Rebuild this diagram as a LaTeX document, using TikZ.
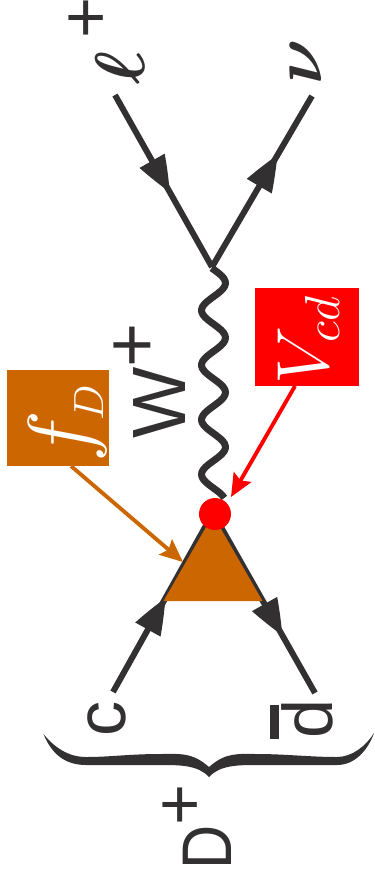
\documentclass[tikz,border=0pt]{standalone}
\usepackage{fix-cm}
\usepackage{amsmath,amssymb}
\usepackage{fontspec}
\setmainfont{Liberation Sans}
\usetikzlibrary{decorations.markings,arrows.meta}
\definecolor{inkD}{HTML}{323031}
\definecolor{bindF}{HTML}{CC6600}
\definecolor{bindV}{HTML}{FF0000}
\newcommand{\lblsize}{\fontsize{20}{22}\selectfont}
\newcommand{\subsize}{\fontsize{12}{12}\selectfont}
\tikzset{
  fermion/.style={inkD, line width=1.7pt, postaction={decorate},
    decoration={markings, mark=at position #1 with {
      \fill[inkD] (-0.35,0.145) -- (-0.35,-0.145) .. controls (-0.14,-0.07) and (-0.06,-0.03) .. (0.01,0)
        .. controls (-0.06,0.03) and (-0.14,0.07) .. cycle;}}},
  lbl/.style={inkD, rotate=90, inner sep=0pt, font=\lblsize},
  coupling/.style={rotate=90, inner sep=0pt, text=white},
  pointer/.style={line width=1.1pt, -{Stealth[length=2.3mm,width=2mm,inset=0.4mm]}},
}
\begin{document}
\begin{tikzpicture}
        \useasboundingbox (0,0) rectangle (3.74,-8.79);
        % Vertices and free line ends
        \coordinate (top) at (2.12,-2.67);
        \coordinate (apex) at (2.13,-5.13);
        \coordinate (lepEnd) at (1.15,-0.95);
        \coordinate (nuEnd) at (3.12,-0.96);
        \coordinate (cEnd) at (1.13,-6.92);
        \coordinate (dEnd) at (3.15,-6.93);
        % Fermion lines
        \draw[fermion=0.56] (lepEnd) -- (top);
        \draw[fermion=0.65] (top) -- (nuEnd);
        \draw[fermion=0.52] (cEnd) -- (apex);
        \draw[fermion=0.675] (apex) -- (dEnd);
        % W line
        \draw[inkD, line width=2pt, line join=round] plot[domain=2.68:4.98, samples=90]
          ({2.135+0.12*cos(360*(\x-2.83)/0.547)}, {-\x});
        % Triangle and red dot
        \fill[bindF] (2.13,-5.15) -- (1.635,-6.01) -- (2.625,-6.01) -- cycle;
        \node[circle, fill=bindV, inner sep=0pt, minimum size=0.32cm] (dot) at (2.15,-5.14) {};
        % Coupling boxes
        \fill[bindF] (0.07,-3.70) rectangle (1.09,-4.66);
        \fill[bindV] (2.55,-2.88) rectangle (3.59,-3.86);
        \node[coupling, font=\fontsize{25}{27}\selectfont] (fD) at (0.68,-4.23) {$f_{\mbox{\subsize$D$}}$};
        \node[coupling, font=\fontsize{21}{23}\selectfont] (Vcd) at (3.09,-3.40) {$V_{\mbox{\fontsize{14}{14}\selectfont$cd$}}$};
        \coordinate (fStart) at (0.71,-4.66);
        \coordinate (fTip) at (1.83,-5.62);
        \coordinate (vStart) at (2.95,-3.86);
        \coordinate (vTip) at (2.31,-4.97);
        \draw[bindF, pointer] (fStart) -- (fTip);
        \draw[bindV, pointer] (vStart) -- (vTip);
        % Labels
        \node[lbl] (lep) at (1.07,-0.41) {$\boldsymbol{\ell}$\hspace{3.5pt}\raisebox{10pt}{+}};
        \node[lbl] (nu) at (3.06,-0.62) {$\boldsymbol{\nu}$};
        \node[lbl, font=\fontsize{21.5}{23}\selectfont] (W) at (1.50,-3.81) {W\raisebox{8pt}{+}};
        \node[lbl] (c) at (1.07,-7.19) {c};
        \node[lbl] (d) at (3.02,-7.19) {\rlap{\raisebox{15.3pt}{\rule{9.6pt}{2.5pt}}}d};
        \node[lbl] (Dp) at (1.97,-8.27) {\scalebox{0.87}[1]{D}\raisebox{8pt}{+}};
        % Brace
        \fill[inkD] (0.435,-7.34) .. controls (0.52,-7.55) and (0.66,-7.65) .. (0.86,-7.65)
          -- (1.60,-7.65) .. controls (1.80,-7.65) and (1.98,-7.65) .. (2.09,-7.77)
          .. controls (2.20,-7.65) and (2.38,-7.65) .. (2.58,-7.65)
          -- (3.37,-7.65) .. controls (3.55,-7.65) and (3.68,-7.50) .. (3.74,-7.33)
          .. controls (3.66,-7.46) and (3.52,-7.57) .. (3.37,-7.57)
          .. controls (3.10,-7.57) and (2.85,-7.54) .. (2.57,-7.54)
          .. controls (2.38,-7.54) and (2.26,-7.52) .. (2.09,-7.67)
          .. controls (1.92,-7.52) and (1.80,-7.54) .. (1.60,-7.54)
          .. controls (1.30,-7.54) and (1.10,-7.57) .. (0.86,-7.57)
          .. controls (0.68,-7.57) and (0.54,-7.47) .. (0.435,-7.34) -- cycle;
\end{tikzpicture}
\end{document}
